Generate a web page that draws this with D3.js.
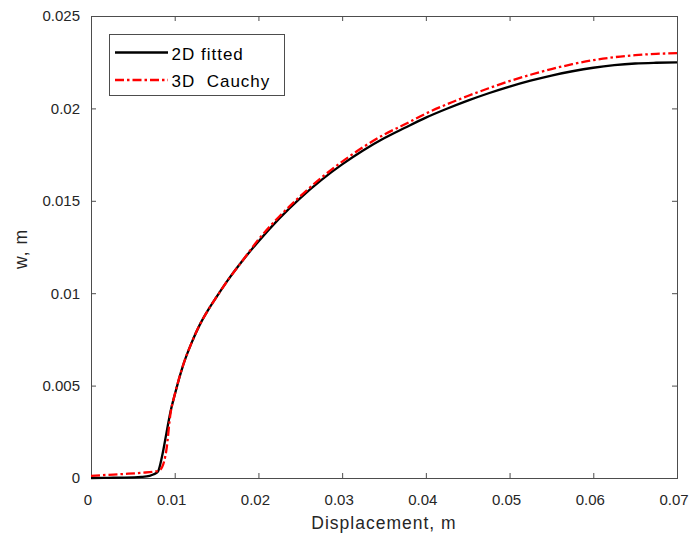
<!DOCTYPE html>
<html>
<head>
<meta charset="utf-8">
<script src="https://cdn.jsdelivr.net/npm/d3@7"></script>
<style>
  html, body { margin: 0; padding: 0; background: #fff; }
  svg { display: block; font-family: "Liberation Sans", Arial, sans-serif; }
</style>
</head>
<body>
<svg id="chart" width="690" height="540"></svg>
<script>
// Displacement (m) and deflection w (m) for the two models
const fittedX = [0, 0.002, 0.004, 0.006, 0.007, 0.0075, 0.008, 0.0085, 0.009, 0.0095, 0.010,
  0.011, 0.012, 0.013, 0.014, 0.015, 0.0165, 0.018, 0.020, 0.0225, 0.025, 0.0275, 0.030,
  0.0325, 0.035, 0.0375, 0.040, 0.0425, 0.045, 0.0475, 0.050, 0.0525, 0.055, 0.0575,
  0.060, 0.0625, 0.065, 0.0675, 0.070];
const fittedW = [0, 0.00001, 0.00002, 0.00006, 0.00012, 0.0002, 0.00035, 0.0012, 0.0024, 0.0036, 0.0045,
  0.0061, 0.0073, 0.0083, 0.0091, 0.0098, 0.0108, 0.0117, 0.0128, 0.01405, 0.01515, 0.01612, 0.01697,
  0.01772, 0.01838, 0.01895, 0.0195, 0.01998, 0.02042, 0.02082, 0.02118, 0.0215, 0.02178, 0.02201,
  0.0222, 0.02234, 0.02243, 0.02247, 0.02249];

const cauchyX = [0, 0.002, 0.004, 0.006, 0.008, 0.0085, 0.009, 0.0095, 0.010,
  0.011, 0.012, 0.013, 0.014, 0.015, 0.0165, 0.018, 0.020, 0.0225, 0.025, 0.0275, 0.030,
  0.0325, 0.035, 0.0375, 0.040, 0.0425, 0.045, 0.0475, 0.050, 0.0525, 0.055, 0.0575,
  0.060, 0.0625, 0.065, 0.0675, 0.070];
const cauchyW = [0.00012, 0.00017, 0.00022, 0.00028, 0.00038, 0.0006, 0.0015, 0.0035, 0.0045,
  0.0061, 0.0073, 0.0083, 0.0091, 0.0098, 0.0108, 0.0117, 0.0129, 0.01415, 0.01525, 0.01624, 0.01712,
  0.0179, 0.01858, 0.01914, 0.01972, 0.02022, 0.02067, 0.02109, 0.02148, 0.02182, 0.02213, 0.02239,
  0.02261, 0.02277, 0.02288, 0.02295, 0.02299];

const xTicks = [0, 0.01, 0.02, 0.03, 0.04, 0.05, 0.06, 0.07];
const yTicks = [0, 0.005, 0.01, 0.015, 0.02, 0.025];
const seriesNames = ["2D fitted", "3D  Cauchy"];

const svg = d3.select("#chart");
const plotLeft = 91, plotRight = 677, plotTop = 16, plotBottom = 478;

const x = d3.scaleLinear().domain([0, 0.07]).range([plotLeft, plotRight]);
const y = d3.scaleLinear().domain([0, 0.025]).range([plotBottom, plotTop]);

const axisColor = "#4d4d4d";
const textColor = "#262626";
const fmt = d => d === 0 ? "0" : String(+d.toFixed(3));

// tick marks pointing inward on all four sides
function styleAxis(g) {
  g.select(".domain").remove();
  g.selectAll(".tick line").attr("stroke", axisColor);
  g.selectAll(".tick text").attr("fill", textColor).style("font-size", "15px")
    .style("font-family", "'Liberation Sans', Arial, sans-serif");
}

svg.append("g").attr("transform", `translate(0,${plotBottom})`)
  .call(d3.axisBottom(x).tickValues(xTicks).tickFormat(fmt).tickSizeInner(-5).tickSizeOuter(0).tickPadding(16))
  .call(styleAxis)
  .call(g => g.selectAll(".tick text").attr("dx", -3.5));
svg.append("g").attr("transform", `translate(0,${plotTop})`)
  .call(d3.axisTop(x).tickValues(xTicks).tickFormat("").tickSizeInner(-5).tickSizeOuter(0))
  .call(styleAxis);
svg.append("g").attr("transform", `translate(${plotLeft},0)`)
  .call(d3.axisLeft(y).tickValues(yTicks).tickFormat(fmt).tickSizeInner(-5).tickSizeOuter(0).tickPadding(11))
  .call(styleAxis);
svg.append("g").attr("transform", `translate(${plotRight},0)`)
  .call(d3.axisRight(y).tickValues(yTicks).tickFormat("").tickSizeInner(-5).tickSizeOuter(0))
  .call(styleAxis);

// plot box
svg.append("rect")
  .attr("x", plotLeft + 0.5).attr("y", plotTop + 0.5)
  .attr("width", plotRight - plotLeft).attr("height", plotBottom - plotTop)
  .attr("fill", "none").attr("stroke", axisColor).attr("stroke-width", 1);

const line = d3.line().x(d => x(d[0])).y(d => y(d[1])).curve(d3.curveMonotoneX);

const fitted = d3.zip(fittedX, fittedW);
const cauchy = d3.zip(cauchyX, cauchyW);

svg.append("path").datum(fitted).attr("d", line)
  .attr("fill", "none").attr("stroke", "#000").attr("stroke-width", 2.3)
  .attr("stroke-linejoin", "round");
svg.append("path").datum(cauchy).attr("d", line)
  .attr("fill", "none").attr("stroke", "#ff0000").attr("stroke-width", 2.3)
  .attr("stroke-dasharray", "9,3,2.5,3");

// axis titles
svg.append("text").attr("x", (plotLeft + plotRight) / 2).attr("y", 529)
  .attr("text-anchor", "middle").attr("fill", textColor)
  .style("font-size", "17.5px").style("letter-spacing", "1px")
  .text("Displacement, m");
svg.append("text").attr("transform", `translate(27,249) rotate(-90)`)
  .attr("text-anchor", "middle").attr("fill", textColor)
  .style("font-size", "17.5px").style("letter-spacing", "1px")
  .text("w, m");

// legend
const lg = svg.append("g");
lg.append("rect").attr("x", 109.5).attr("y", 34.5).attr("width", 175).attr("height", 61)
  .attr("fill", "#fff").attr("stroke", axisColor).attr("stroke-width", 1);
const legendStyles = [
  { stroke: "#000", dash: null },
  { stroke: "#ff0000", dash: "9,3,2.5,3" }
];
seriesNames.forEach((name, i) => {
  const yy = 52.5 + i * 27.5;
  lg.append("line").attr("x1", 115).attr("x2", 168).attr("y1", yy).attr("y2", yy)
    .attr("stroke", legendStyles[i].stroke).attr("stroke-width", 2.3)
    .attr("stroke-dasharray", legendStyles[i].dash);
  lg.append("text").attr("x", 171.5).attr("y", yy + 7.3)
    .attr("fill", "#000").style("font-size", "17px").style("letter-spacing", "1px")
    .style("white-space", "pre")
    .text(name);
});
</script>
</body>
</html>
